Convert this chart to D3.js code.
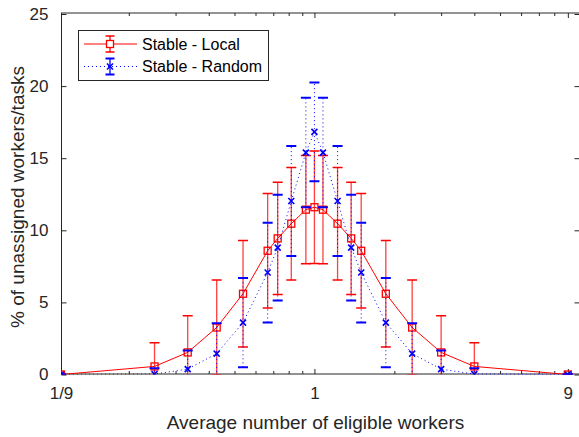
<!DOCTYPE html>
<html><head><meta charset="utf-8">
<script src="https://cdn.jsdelivr.net/npm/d3@7"></script>
<style>
html,body{margin:0;padding:0;background:#fff;}
svg{display:block;font-family:"Liberation Sans",Arial,Helvetica,sans-serif;}
</style></head>
<body>
<script>
// ---- data ----
const xValues = [1/9, 1/4, 1/3, 3/7, 7/13, 2/3, 8/11, 9/11, 13/14, 1, 14/13, 11/9, 11/8, 3/2, 13/7, 7/3, 3, 4, 9];
const localMean = [0, 0.56, 1.53, 3.26, 5.6, 8.58, 9.44, 10.46, 11.43, 11.6, 11.43, 10.46, 9.44, 8.58, 5.6, 3.26, 1.53, 0.56, 0];
const localErr  = [0, 1.64, 2.55, 3.29, 3.7, 3.97, 3.9, 3.9, 3.75, 3.9, 3.75, 3.9, 3.9, 3.97, 3.7, 3.29, 2.55, 1.64, 0];
const randomMean = [0, 0.03, 0.37, 1.45, 3.6, 7.07, 8.8, 12.03, 15.39, 16.83, 15.39, 12.03, 8.8, 7.07, 3.6, 1.45, 0.37, 0.03, 0];
const randomErr  = [0, 0.4, 1.3, 2.1, 3.1, 3.46, 3.66, 3.82, 3.8, 3.42, 3.8, 3.82, 3.66, 3.46, 3.1, 2.1, 1.3, 0.4, 0];
const seriesNames = ["Stable - Local", "Stable - Random"];
const yTicks = [0, 5, 10, 15, 20, 25];
const xMajorTicks = [1/9, 1, 9];
const xMajorLabels = ["1/9", "1", "9"];
const xMinorTicks = [0.2,0.3,0.4,0.5,0.6,0.7,0.8,0.9,2,3,4,5,6,7,8,10];
const xLabel = "Average number of eligible workers";
const yLabel = "% of unassigned workers/tasks";

// ---- layout ----
const W = 579, H = 437;
const L = 61, R = 580, T = 13, B = 374.5;
const svg = d3.select("body").append("svg").attr("width", W).attr("height", H);

const x = d3.scaleLog().domain([1/9, 10]).range([L, R]);
const y = d3.scaleLinear().domain([0, 25]).range([B, 14]);

svg.append("defs").append("clipPath").attr("id","clip")
  .append("rect").attr("x", L).attr("y", T).attr("width", R - L).attr("height", B - T);

const axisColor = "#262626";
// axis box
svg.append("line").attr("x1", L).attr("x2", R).attr("y1", 374).attr("y2", 374).attr("stroke", axisColor).attr("stroke-width", 1);
svg.append("line").attr("x1", L).attr("x2", R).attr("y1", 13).attr("y2", 13).attr("stroke", axisColor).attr("stroke-width", 1);
svg.append("line").attr("x1", L + 0.5).attr("x2", L + 0.5).attr("y1", T).attr("y2", 374.5).attr("stroke", axisColor).attr("stroke-width", 1);
svg.append("line").attr("x1", R - 0.5).attr("x2", R - 0.5).attr("y1", T).attr("y2", 374.5).attr("stroke", axisColor).attr("stroke-width", 1);

// y axis via d3
const yAxisL = d3.axisLeft(y).tickValues(yTicks).tickSize(-5).tickPadding(13).tickFormat(d3.format("d"));
const gy = svg.append("g").attr("transform", `translate(${L + 0.5},0)`).call(yAxisL);
gy.select(".domain").remove();
gy.selectAll(".tick line").attr("stroke", axisColor);
gy.selectAll(".tick text").attr("font-size", 17).attr("fill", "#262626")
  .attr("font-family", "Liberation Sans, Arial, sans-serif");
const yAxisR = d3.axisRight(y).tickValues(yTicks).tickSize(-5).tickFormat("");
const gyr = svg.append("g").attr("transform", `translate(${R - 0.5},0)`).call(yAxisR);
gyr.select(".domain").remove();
gyr.selectAll(".tick line").attr("stroke", axisColor);

// x axis via d3
const xAxisB = d3.axisBottom(x).tickValues(xMajorTicks).tickSize(-5).tickPadding(13)
  .tickFormat((d, i) => xMajorLabels[i]);
const gx = svg.append("g").attr("transform", `translate(0,374)`).call(xAxisB);
gx.select(".domain").remove();
gx.selectAll(".tick line").attr("stroke", axisColor);
gx.selectAll(".tick text").attr("font-size", 17).attr("fill", "#262626")
  .attr("font-family", "Liberation Sans, Arial, sans-serif");
const xAxisBm = d3.axisBottom(x).tickValues(xMinorTicks).tickSize(-3).tickFormat("");
const gxm = svg.append("g").attr("transform", `translate(0,374)`).call(xAxisBm);
gxm.select(".domain").remove();
gxm.selectAll(".tick line").attr("stroke", axisColor);
const xAxisT = d3.axisTop(x).tickValues(xMajorTicks).tickSize(-5).tickFormat("");
const gxt = svg.append("g").attr("transform", `translate(0,13)`).call(xAxisT);
gxt.select(".domain").remove();
gxt.selectAll(".tick line").attr("stroke", axisColor);
const xAxisTm = d3.axisTop(x).tickValues(xMinorTicks).tickSize(-3).tickFormat("");
const gxtm = svg.append("g").attr("transform", `translate(0,13)`).call(xAxisTm);
gxtm.select(".domain").remove();
gxtm.selectAll(".tick line").attr("stroke", axisColor);

// labels
svg.append("text").attr("x", (163 + 468) / 2).attr("y", 428.5).attr("text-anchor", "middle")
  .attr("font-size", 19).attr("fill", "#262626").text(xLabel);
svg.append("text").attr("transform", `translate(24,197) rotate(-90)`).attr("text-anchor", "middle")
  .attr("font-size", 19).attr("fill", "#262626").text(yLabel);

// series drawing
const plot = svg.append("g").attr("clip-path", "url(#clip)");
const capHalf = 5;

function drawSeries(means, errs, color, dashed, marker) {
  const g = plot.append("g");
  const pts = xValues.map((xv, i) => ({x: xv, m: means[i], e: errs[i]}));
  const line = d3.line().x(d => x(d.x)).y(d => y(d.m));
  g.append("path").datum(pts).attr("d", line).attr("fill", "none")
    .attr("stroke", color).attr("stroke-width", 1)
    .attr("stroke-dasharray", dashed ? "1,3" : null);
  // error stems
  g.selectAll(".stem").data(pts).enter().append("line")
    .attr("x1", d => x(d.x)).attr("x2", d => x(d.x))
    .attr("y1", d => y(d.m - d.e)).attr("y2", d => y(d.m + d.e))
    .attr("stroke", color).attr("stroke-width", dashed ? 1 : 1.3)
    .attr("stroke-opacity", dashed ? 1 : 0.75)
    .attr("stroke-dasharray", dashed ? "1,3" : null);
  // caps
  ["lo", "hi"].forEach(k => {
    g.selectAll(".cap" + k).data(pts).enter().append("line")
      .attr("x1", d => x(d.x) - capHalf).attr("x2", d => x(d.x) + capHalf)
      .attr("y1", d => y(k === "lo" ? d.m - d.e : d.m + d.e))
      .attr("y2", d => y(k === "lo" ? d.m - d.e : d.m + d.e))
      .attr("stroke", color).attr("stroke-width", dashed ? 2 : 1.5);
  });
  // markers
  if (marker === "square") {
    g.selectAll(".mk").data(pts).enter().append("rect")
      .attr("x", d => x(d.x) - 3.5).attr("y", d => y(d.m) - 3.5)
      .attr("width", 7).attr("height", 7)
      .attr("fill", "none").attr("stroke", color).attr("stroke-width", 1.3);
  } else {
    const s = 3;
    g.selectAll(".mk").data(pts).enter().append("path")
      .attr("d", d => { const cx = x(d.x), cy = y(d.m);
        return `M${cx-s},${cy-s}L${cx+s},${cy+s}M${cx-s},${cy+s}L${cx+s},${cy-s}`; })
      .attr("stroke", color).attr("stroke-width", 1.6).attr("fill", "none");
  }
}
drawSeries(localMean, localErr, "#ff0000", false, "square");
drawSeries(randomMean, randomErr, "#0000ff", true, "x");

// legend
const lg = svg.append("g");
lg.append("rect").attr("x", 78.5).attr("y", 30.5).attr("width", 190).attr("height", 50)
  .attr("fill", "#fff").attr("stroke", axisColor).attr("stroke-width", 1);
const legendRows = [
  {name: seriesNames[0], color: "#ff0000", dashed: false, marker: "square", cy: 44},
  {name: seriesNames[1], color: "#0000ff", dashed: true, marker: "x", cy: 66.5}
];
legendRows.forEach(r => {
  const cx = 110;
  lg.append("line").attr("x1", 84).attr("x2", 137).attr("y1", r.cy).attr("y2", r.cy)
    .attr("stroke", r.color).attr("stroke-width", 1).attr("stroke-dasharray", r.dashed ? "1,3" : null);
  lg.append("line").attr("x1", cx).attr("x2", cx).attr("y1", r.cy - 8).attr("y2", r.cy + 8)
    .attr("stroke", r.color).attr("stroke-width", 1.3);
  [r.cy - 8, r.cy + 8].forEach(yy => lg.append("line").attr("x1", cx - 4.5).attr("x2", cx + 4.5)
    .attr("y1", yy).attr("y2", yy).attr("stroke", r.color).attr("stroke-width", r.dashed ? 2 : 1.5));
  if (r.marker === "square") {
    lg.append("rect").attr("x", cx - 3.5).attr("y", r.cy - 3.5).attr("width", 7).attr("height", 7)
      .attr("fill", "#fff").attr("stroke", r.color).attr("stroke-width", 1.3);
  } else {
    lg.append("path").attr("d", `M${cx-3},${r.cy-3}L${cx+3},${r.cy+3}M${cx-3},${r.cy+3}L${cx+3},${r.cy-3}`)
      .attr("stroke", r.color).attr("stroke-width", 1.6);
  }
  lg.append("text").attr("x", 142).attr("y", r.cy + 5.5).attr("font-size", 16).attr("fill", "#000").text(r.name);
});
</script>
</body></html>
